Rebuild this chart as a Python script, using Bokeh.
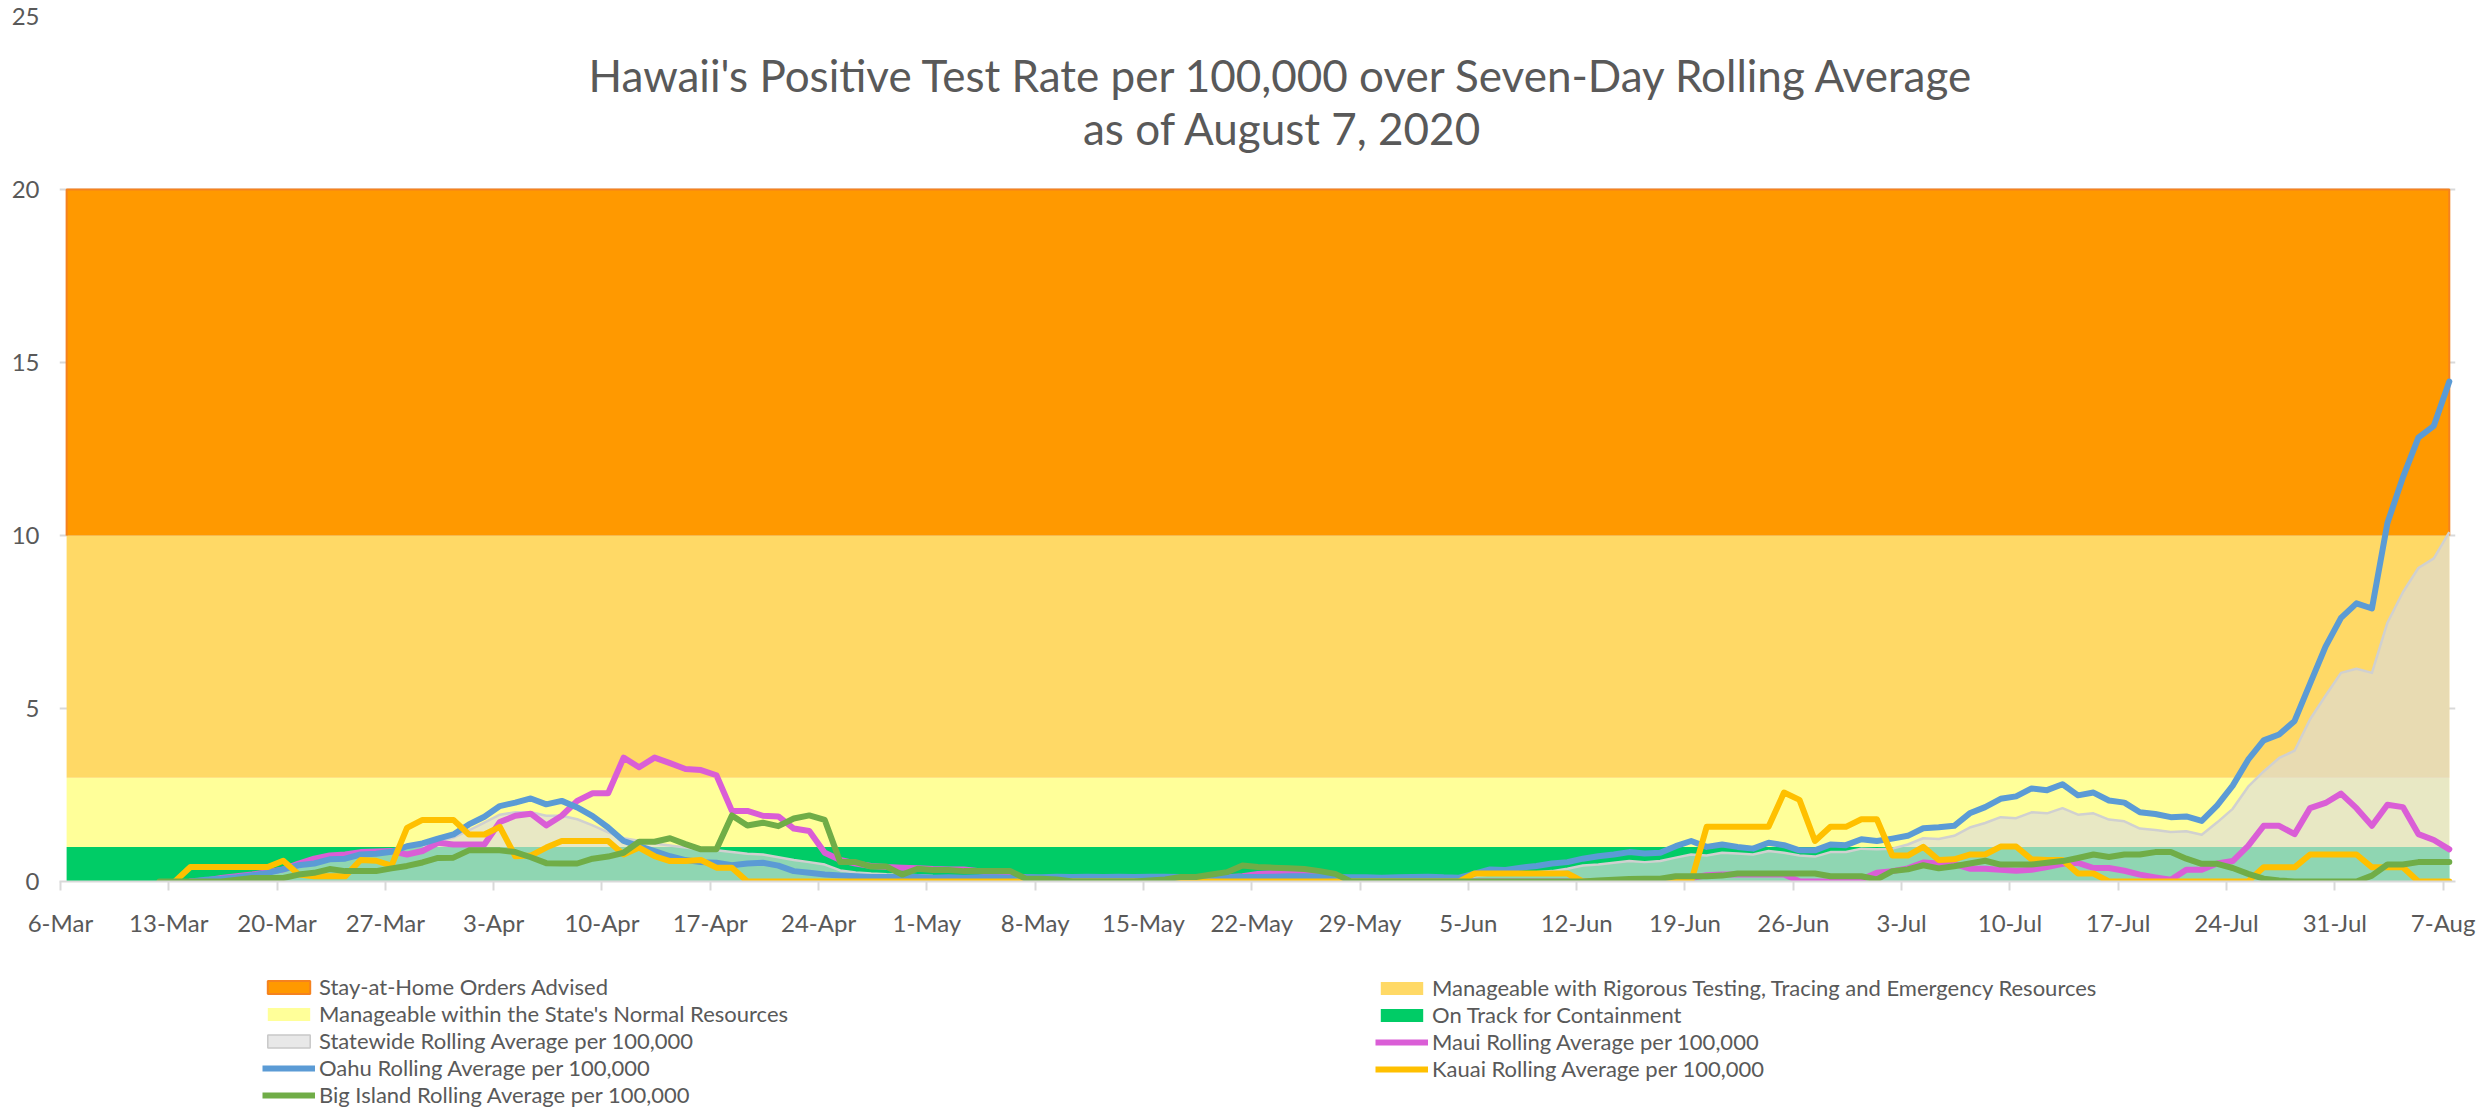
import numpy as np
from bokeh.plotting import figure
from bokeh.layouts import column
from bokeh.models import Label, Legend, LegendItem, FixedTicker, Range1d
from bokeh.embed import file_html
from bokeh.resources import INLINE

nan = float("nan")

# ---------------- data ----------------
n_days = 155  # 6-Mar .. 7-Aug 2020
tick_labels = ["6-Mar", "13-Mar", "20-Mar", "27-Mar", "3-Apr", "10-Apr", "17-Apr", "24-Apr",
               "1-May", "8-May", "15-May", "22-May", "29-May", "5-Jun", "12-Jun", "19-Jun",
               "26-Jun", "3-Jul", "10-Jul", "17-Jul", "24-Jul", "31-Jul", "7-Aug"]

band_edges = [0, 1, 3, 10, 20]
band_names = ["On Track for Containment",
              "Manageable within the State's Normal Resources",
              "Manageable with Rigorous Testing, Tracing and Emergency Resources",
              "Stay-at-Home Orders Advised"]
band_colors = ["#00CC66", "#FFFF99", "#FFD966", "#FF9900"]

statewide = [nan] * 8 + [
    0, 0.04, 0.08, 0.12, 0.17, 0.23, 0.32, 0.42, 0.5, 0.6,
    0.64, 0.74, 0.78, 0.85, 0.98, 1.05, 1.15, 1.27, 1.48, 1.7,
    1.93, 2.0, 2.0, 1.9, 1.9, 1.8, 1.62, 1.42, 1.25, 1.18,
    1.1, 1.04, 0.98, 0.92, 0.9, 0.85, 0.8, 0.78, 0.7, 0.62,
    0.56, 0.49, 0.32, 0.26, 0.23, 0.21, 0.2, 0.18, 0.16, 0.15,
    0.15, 0.14, 0.14, 0.14, 0.14, 0.13, 0.14, 0.14, 0.14, 0.14,
    0.14, 0.14, 0.14, 0.14, 0.14, 0.14, 0.14, 0.15, 0.16, 0.17,
    0.17, 0.17, 0.16, 0.15, 0.13, 0.12, 0.11, 0.1, 0.1, 0.1,
    0.1, 0.1, 0.11, 0.15, 0.2, 0.2, 0.24, 0.27, 0.3, 0.37,
    0.46, 0.49, 0.54, 0.59, 0.56, 0.59, 0.69, 0.78, 0.75, 0.83,
    0.81, 0.78, 0.88, 0.83, 0.75, 0.72, 0.85, 0.85, 0.95, 0.93,
    0.95, 1.07, 1.25, 1.23, 1.32, 1.56, 1.69, 1.86, 1.83, 2.0,
    1.97, 2.12, 1.93, 1.97, 1.79, 1.74, 1.53, 1.49, 1.43, 1.45,
    1.35, 1.71, 2.1, 2.74, 3.18, 3.57, 3.78, 4.69, 5.37, 6.03,
    6.15, 6.03, 7.48, 8.36, 9.06, 9.34, 10.1]

maui = [nan] * 8 + [
    0, 0.03, 0.1, 0.15, 0.2, 0.27, 0.35, 0.52, 0.66, 0.75,
    0.78, 0.85, 0.87, 0.88, 0.78, 0.88, 1.12, 1.07, 1.07, 1.07,
    1.72, 1.9, 1.96, 1.62, 1.9, 2.33, 2.55, 2.55, 3.58, 3.3,
    3.58, 3.42, 3.25, 3.22, 3.07, 2.04, 2.04, 1.9, 1.88, 1.53,
    1.46, 0.83, 0.62, 0.52, 0.45, 0.42, 0.4, 0.38, 0.36, 0.35,
    0.35, 0.3, 0.2, 0.15, 0.12, 0.1, 0.1, 0.1, 0.1, 0.1,
    0.1, 0.1, 0.1, 0.1, 0.1, 0.1, 0.1, 0.12, 0.15, 0.22,
    0.24, 0.24, 0.22, 0.2, 0.12, 0.05, 0, 0, 0, 0,
    0, 0, 0, 0, 0, 0, 0, 0, 0, 0,
    0, 0, 0, 0, 0, 0, 0, 0.1, 0.18, 0.2,
    0.2, 0.2, 0.2, 0.2, 0.01, 0, 0, 0.01, 0.06, 0.25,
    0.3, 0.38, 0.55, 0.52, 0.51, 0.37, 0.37, 0.34, 0.31, 0.34,
    0.42, 0.51, 0.54, 0.39, 0.39, 0.31, 0.2, 0.12, 0.05, 0.34,
    0.34, 0.52, 0.59, 1.03, 1.61, 1.61, 1.37, 2.12, 2.27, 2.54,
    2.12, 1.61, 2.22, 2.15, 1.37, 1.2, 0.93]

oahu = [nan] * 8 + [
    0, 0.05, 0.08, 0.12, 0.18, 0.25, 0.35, 0.47, 0.52, 0.64,
    0.66, 0.78, 0.8, 0.86, 1.02, 1.1, 1.24, 1.36, 1.65, 1.87,
    2.18, 2.28, 2.4, 2.23, 2.33, 2.14, 1.89, 1.56, 1.17, 1.02,
    0.88, 0.73, 0.62, 0.56, 0.54, 0.47, 0.52, 0.54, 0.46, 0.3,
    0.25, 0.2, 0.17, 0.15, 0.13, 0.13, 0.13, 0.13, 0.11, 0.12,
    0.11, 0.12, 0.12, 0.11, 0.12, 0.12, 0.14, 0.13, 0.14, 0.13,
    0.14, 0.13, 0.14, 0.14, 0.13, 0.12, 0.12, 0.12, 0.13, 0.13,
    0.14, 0.15, 0.15, 0.14, 0.13, 0.12, 0.12, 0.11, 0.12, 0.13,
    0.14, 0.12, 0.11, 0.23, 0.35, 0.33, 0.4, 0.45, 0.52, 0.56,
    0.66, 0.73, 0.78, 0.85, 0.81, 0.83, 1.02, 1.17, 1.0, 1.07,
    1.0, 0.95, 1.12, 1.05, 0.9, 0.9, 1.07, 1.05, 1.22, 1.17,
    1.24, 1.32, 1.54, 1.57, 1.61, 1.97, 2.15, 2.39, 2.46, 2.69,
    2.64, 2.81, 2.49, 2.57, 2.34, 2.28, 2.0, 1.95, 1.86, 1.88,
    1.75, 2.2, 2.77, 3.52, 4.08, 4.25, 4.64, 5.72, 6.79, 7.62,
    8.04, 7.89, 10.36, 11.68, 12.83, 13.17, 14.45]

kauai = [nan] * 7 + [
    0, 0.42, 0.42, 0.42, 0.42, 0.42, 0.42, 0.6, 0.2, 0.15,
    0.15, 0.15, 0.62, 0.6, 0.46, 1.55, 1.78, 1.78, 1.78, 1.36,
    1.36, 1.58, 0.73, 0.75, 0.98, 1.17, 1.17, 1.17, 1.17, 0.78,
    0.98, 0.73, 0.59, 0.59, 0.62, 0.4, 0.4, 0, 0, 0,
    0, 0, 0, 0, 0, 0, 0, 0, 0, 0,
    0, 0, 0, 0, 0, 0, 0, 0, 0, 0,
    0, 0, 0, 0, 0, 0, 0, 0, 0, 0,
    0, 0, 0, 0, 0, 0, 0, 0, 0, 0,
    0, 0, 0, 0, 0.23, 0.23, 0.23, 0.23, 0.23, 0.23,
    0.23, 0, 0, 0, 0, 0, 0, 0, 0, 1.58,
    1.58, 1.58, 1.58, 1.58, 2.57, 2.36, 1.17, 1.58, 1.58, 1.8,
    1.8, 0.75, 0.75, 1.0, 0.62, 0.64, 0.78, 0.78, 1.01, 1.01,
    0.64, 0.62, 0.62, 0.23, 0.23, 0, 0, 0, 0, 0,
    0, 0, 0, 0, 0, 0.41, 0.41, 0.41, 0.78, 0.78,
    0.78, 0.78, 0.41, 0.41, 0.41, 0, 0, 0]

big_island = [nan] * 6 + [
    0, 0, 0, 0, 0, 0.05, 0.1, 0.1, 0.1, 0.2,
    0.25, 0.36, 0.3, 0.3, 0.3, 0.38, 0.45, 0.55, 0.68, 0.69,
    0.9, 0.9, 0.9, 0.85, 0.7, 0.53, 0.52, 0.52, 0.66, 0.72,
    0.83, 1.15, 1.15, 1.25, 1.08, 0.93, 0.93, 1.91, 1.62, 1.7,
    1.6, 1.82, 1.91, 1.78, 0.56, 0.56, 0.43, 0.43, 0.2, 0.37,
    0.33, 0.33, 0.3, 0.3, 0.3, 0.3, 0.08, 0.08, 0.06, 0,
    0, 0, 0, 0, 0.03, 0.06, 0.13, 0.13, 0.2, 0.27,
    0.46, 0.42, 0.4, 0.38, 0.36, 0.3, 0.22, 0, 0, 0,
    0, 0, 0, 0, 0, 0, 0, 0, 0, 0,
    0, 0, 0, 0.03, 0.05, 0.07, 0.08, 0.08, 0.15, 0.15,
    0.15, 0.17, 0.23, 0.23, 0.23, 0.23, 0.23, 0.23, 0.15, 0.15,
    0.15, 0.06, 0.3, 0.35, 0.47, 0.38, 0.44, 0.52, 0.6, 0.49,
    0.49, 0.49, 0.54, 0.59, 0.68, 0.78, 0.71, 0.78, 0.78, 0.85,
    0.85, 0.66, 0.51, 0.51, 0.39, 0.22, 0.08, 0.03, 0, 0,
    0, 0, 0, 0.17, 0.49, 0.49, 0.56, 0.56, 0.56]

for s in (statewide, maui, oahu, kauai, big_island):
    assert len(s) == n_days, len(s)

# ---------------- styling ----------------
TXT = "#595959"
GRID = "#D9D9D9"
FONT = "Lato"
ORANGE_EDGE = "#F5821F"
STATE_FILL, STATE_EDGE = "#DBDBDB", "#D0D0D0"
line_specs = [("Maui Rolling Average per 100,000", maui, "#DA5ED6"),
              ("Oahu Rolling Average per 100,000", oahu, "#5B9BD5"),
              ("Kauai Rolling Average per 100,000", kauai, "#FFC000"),
              ("Big Island Rolling Average per 100,000", big_island, "#70AD47")]
LW = 6

day_offset = 0.4          # points sit inside each day's slot
xs = np.arange(n_days) + day_offset


def defined(series):
    arr = np.asarray(series, dtype=float)
    m = ~np.isnan(arr)
    return xs[m], arr[m]


W = 2481
H_MAIN = 968
H_LEG = 142

p = figure(width=W, height=H_MAIN, output_backend="svg", toolbar_location=None,
           title=None, x_range=Range1d(-0.06, 154.8), y_range=Range1d(0, 25),
           min_border_left=59, min_border_right=26, min_border_top=16, min_border_bottom=87)
p.outline_line_color = None
p.background_fill_color = "white"
p.border_fill_color = "white"

# bands
for lo, hi, col in zip(band_edges[:-1], band_edges[1:], band_colors):
    p.varea(x=xs, y1=lo, y2=hi, fill_color=col, fill_alpha=1.0)
# outline of the top band (top, left and right edges)
p.line(x=[xs[0], xs[0], xs[-1], xs[-1]],
       y=[band_edges[3], band_edges[4], band_edges[4], band_edges[3]],
       line_color=ORANGE_EDGE, line_width=2)

# statewide area
sx, sy = defined(statewide)
p.varea(x=sx, y1=0, y2=sy, fill_color=STATE_FILL, fill_alpha=0.65)
p.line(sx, sy, line_color=STATE_EDGE, line_width=2.5, line_join="round")

for name, ser, col in line_specs:
    lx, ly = defined(ser)
    p.line(lx, ly, line_color=col, line_width=LW, line_join="round", line_cap="round")

# title
p.add_layout(Label(x=79, y=23.32, text="Hawaii's Positive Test Rate per 100,000 over Seven-Day Rolling Average",
                   text_align="center", text_baseline="middle", text_font=FONT,
                   text_font_size="44px", text_color=TXT))
p.add_layout(Label(x=79, y=21.79, text="as of August 7, 2020",
                   text_align="center", text_baseline="middle", text_font=FONT,
                   text_font_size="44px", text_color=TXT))

# axes
ticks = list(range(0, n_days, 7))
p.xaxis.ticker = FixedTicker(ticks=ticks)
p.xaxis.major_label_overrides = {t: lab for t, lab in zip(ticks, tick_labels)}
p.xaxis.minor_tick_line_color = None
p.xaxis.axis_line_color = GRID
p.xaxis.axis_line_width = 2
p.xaxis.major_tick_line_color = GRID
p.xaxis.major_tick_line_width = 2
p.xaxis.major_tick_in = 0
p.xaxis.major_tick_out = 9
p.xaxis.major_label_standoff = 17
p.xaxis.major_label_text_font = FONT
p.xaxis.major_label_text_font_size = "24px"
p.xaxis.major_label_text_color = TXT

p.yaxis.ticker = FixedTicker(ticks=[0, 5, 10, 15, 20, 25])
p.yaxis.axis_line_color = None
p.yaxis.major_tick_line_color = None
p.yaxis.minor_tick_line_color = None
p.yaxis.major_tick_out = 0
p.yaxis.major_label_standoff = 20
p.yaxis.major_label_text_font = FONT
p.yaxis.major_label_text_font_size = "24px"
p.yaxis.major_label_text_color = TXT

p.xgrid.visible = False
p.ygrid.ticker = FixedTicker(ticks=[0, 5, 10, 15, 20, 25])
p.ygrid.grid_line_color = GRID
p.ygrid.grid_line_width = 2

# ---------------- legend strip ----------------
q = figure(width=W, height=H_LEG, output_backend="svg", toolbar_location=None, title=None,
           x_range=Range1d(0, 1), y_range=Range1d(0, 1),
           x_axis_location=None, y_axis_location=None, min_border=0)
q.grid.visible = False
q.outline_line_color = None
q.background_fill_color = "white"
q.border_fill_color = "white"


def area_proxy(fill, line=None, lw=1, alpha=1.0):
    return q.quad(left=[nan], right=[nan], top=[nan], bottom=[nan], fill_color=fill,
                  fill_alpha=alpha, line_color=line, line_width=lw)


def line_proxy(col):
    return q.line(x=[nan], y=[nan], line_color=col, line_width=LW)


left_items = [
    LegendItem(label=band_names[3], renderers=[area_proxy(band_colors[3], ORANGE_EDGE, 2)]),
    LegendItem(label=band_names[1], renderers=[area_proxy(band_colors[1])]),
    LegendItem(label="Statewide Rolling Average per 100,000",
               renderers=[area_proxy(STATE_FILL, "#C8C8C8", 1.5, 0.65)]),
    LegendItem(label=line_specs[1][0], renderers=[line_proxy(line_specs[1][2])]),
    LegendItem(label=line_specs[3][0], renderers=[line_proxy(line_specs[3][2])]),
]
right_items = [
    LegendItem(label=band_names[2], renderers=[area_proxy(band_colors[2])]),
    LegendItem(label=band_names[0], renderers=[area_proxy(band_colors[0])]),
    LegendItem(label=line_specs[0][0], renderers=[line_proxy(line_specs[0][2])]),
    LegendItem(label=line_specs[2][0], renderers=[line_proxy(line_specs[2][2])]),
]
ROW = 26
common = dict(orientation="vertical", glyph_width=53, glyph_height=16, label_standoff=4,
              label_height=ROW, spacing=0, padding=0, margin=0,
              border_line_color=None, background_fill_alpha=0,
              label_text_font=FONT, label_text_font_size="22px", label_text_color=TXT)
q.add_layout(Legend(items=left_items, location=(203, 2), **common))
q.add_layout(Legend(items=right_items, location=(1316, 2 + ROW), **common))

open("out.html", "w").write(file_html(column(p, q), INLINE))
